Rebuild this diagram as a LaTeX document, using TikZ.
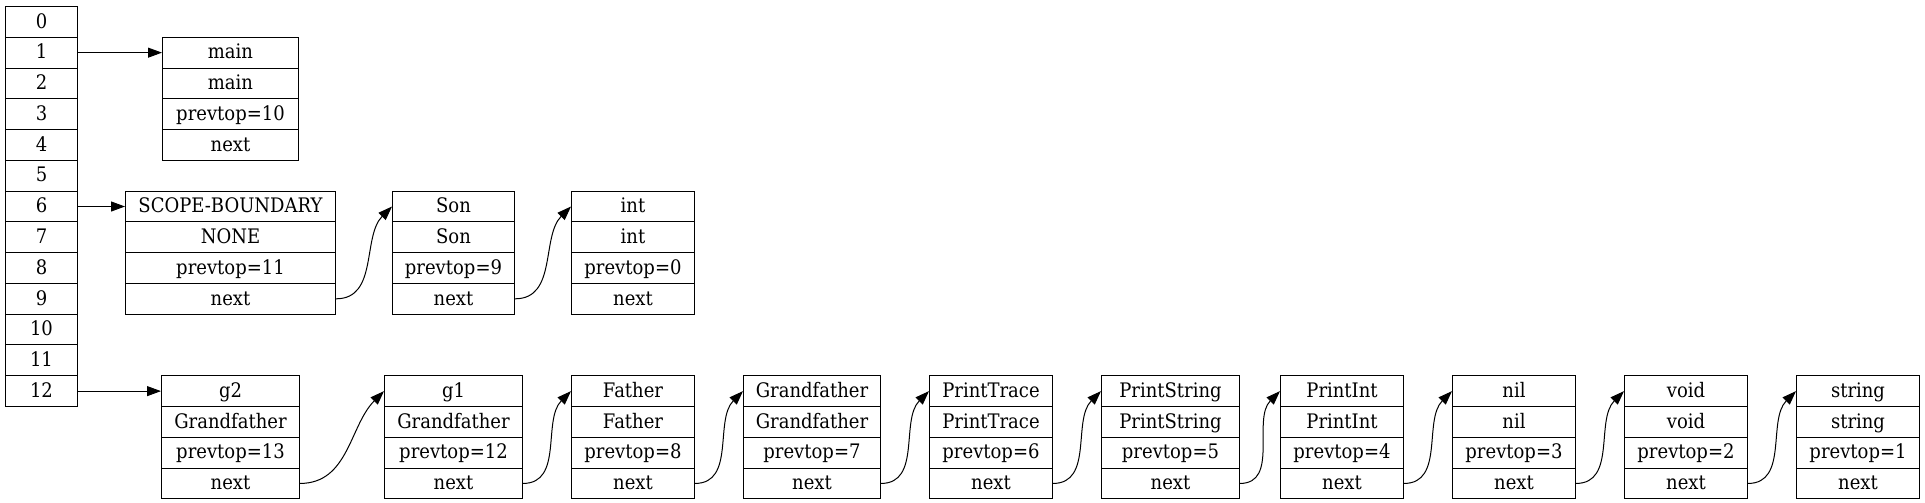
\documentclass[tikz,border=0pt]{standalone}
\usepackage{fontspec}
\setmainfont{DejaVu Serif}[FakeStretch=0.9]
\usetikzlibrary{arrows.meta}
\tikzset{
  cell/.style={draw=black, line width=0.75pt, inner sep=0pt, minimum height=23.08pt,
    anchor=north west, text height=11.5pt, text depth=2.2pt, font=\fontsize{15}{17}\selectfont},
  link/.style={-{Triangle[length=10.5pt,width=7.5pt]}, line width=0.75pt},
  curvelink/.style={link, out=0, in=225}
}
\newcommand\myrec[8]{%
  \pgfmathsetmacro\recw{(#3-#2)*0.75}%
  \node[cell, minimum width=\recw pt] (#1-1) at (#2, {6+#4*30.77}) {#5};
  \node[cell, minimum width=\recw pt] (#1-2) at (#2, {6+(#4+1)*30.77}) {#6};
  \node[cell, minimum width=\recw pt] (#1-3) at (#2, {6+(#4+2)*30.77}) {#7};
  \node[cell, minimum width=\recw pt] (#1-4) at (#2, {6+(#4+3)*30.77}) {#8};
}
\begin{document}
\begin{tikzpicture}[x=0.75pt, y=-0.75pt]
\useasboundingbox (0,0) rectangle (1925,503);
\fill[white] (0,0) rectangle (1925,503);
% array
\foreach \i in {0,...,12}{
  \node[cell, minimum width=54pt] (a\i) at (5, {6+\i*30.77}) {\i};
}
% records
\myrec{main}{162}{298}{1}{main}{main}{prevtop=10}{next}
\myrec{scope}{125}{335}{6}{SCOPE-BOUNDARY}{NONE}{prevtop=11}{next}
\myrec{son}{392}{514}{6}{Son}{Son}{prevtop=9}{next}
\myrec{int}{571}{694}{6}{int}{int}{prevtop=0}{next}
\myrec{gtwo}{161}{299}{12}{g2}{Grandfather}{prevtop=13}{next}
\myrec{gone}{384}{522}{12}{g1}{Grandfather}{prevtop=12}{next}
\myrec{father}{571}{694}{12}{Father}{Father}{prevtop=8}{next}
\myrec{grand}{743}{880}{12}{Grandfather}{Grandfather}{prevtop=7}{next}
\myrec{ptrace}{929}{1052}{12}{PrintTrace}{PrintTrace}{prevtop=6}{next}
\myrec{pstring}{1101}{1239}{12}{PrintString}{PrintString}{prevtop=5}{next}
\myrec{pint}{1280}{1403}{12}{PrintInt}{PrintInt}{prevtop=4}{next}
\myrec{nil}{1452}{1575}{12}{nil}{nil}{prevtop=3}{next}
\myrec{void}{1624}{1747}{12}{void}{void}{prevtop=2}{next}
\myrec{string}{1796}{1919}{12}{string}{string}{prevtop=1}{next}
% links
\draw[link] (a1.east) -- (main-1.west);
\draw[link] (a6.east) -- (scope-1.west);
\draw[link] (a12.east) -- (gtwo-1.west);
\draw[curvelink] (scope-4.east) to (son-1.west);
\draw[curvelink] (son-4.east) to (int-1.west);
\draw[curvelink] (gtwo-4.east) to (gone-1.west);
\draw[curvelink] (gone-4.east) to (father-1.west);
\draw[curvelink] (father-4.east) to (grand-1.west);
\draw[curvelink] (grand-4.east) to (ptrace-1.west);
\draw[curvelink] (ptrace-4.east) to (pstring-1.west);
\draw[curvelink] (pstring-4.east) to (pint-1.west);
\draw[curvelink] (pint-4.east) to (nil-1.west);
\draw[curvelink] (nil-4.east) to (void-1.west);
\draw[curvelink] (void-4.east) to (string-1.west);
\end{tikzpicture}
\end{document}
